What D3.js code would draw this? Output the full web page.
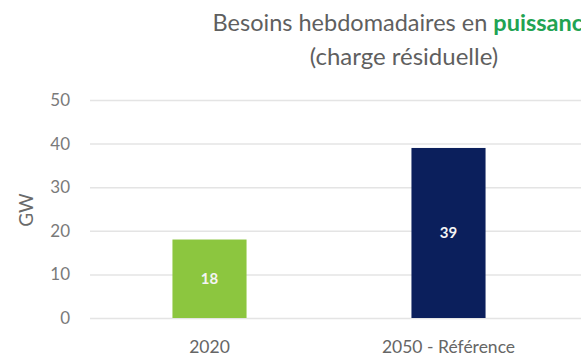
<!DOCTYPE html>
<html>
<head>
<meta charset="utf-8">
<script src="https://cdn.jsdelivr.net/npm/d3@7"></script>
<style>
  html, body { margin: 0; padding: 0; background: #fff; }
  svg { display: block; }
  text { font-family: Lato, "Open Sans", sans-serif; }
</style>
</head>
<body>
<svg id="chart" width="581" height="358"></svg>
<script>
// Weekly residual-load power needs
const categories = ["2020", "2050 - Référence"];
const values = [18, 39];
const barColors = ["#8cc63f", "#0b1f5c"];
const yTicks = [0, 10, 20, 30, 40, 50];

const W = 581, H = 358;
const margin = { top: 100, right: 13, bottom: 40, left: 90 };
const svg = d3.select("#chart");

const x = d3.scaleBand()
  .domain(categories)
  .range([margin.left, W - margin.right])
  .paddingInner(0.69)
  .paddingOuter(0.345);

const y = d3.scaleLinear()
  .domain([0, 50])
  .range([H - margin.bottom, margin.top]);

// Title (the plot area runs past the right edge, so the first line is cut there)
const title = svg.append("text")
  .attr("x", 404).attr("y", 31)
  .attr("text-anchor", "middle")
  .attr("font-size", 23.5)
  .attr("fill", "#5f5f5f");
title.append("tspan").text("Besoins hebdomadaires en ");
title.append("tspan").attr("fill", "#22a352").attr("font-weight", "bold").text("puissance");
svg.append("text")
  .attr("x", 404).attr("y", 65)
  .attr("text-anchor", "middle")
  .attr("font-size", 24)
  .attr("fill", "#5f5f5f")
  .text("(charge résiduelle)");

// Gridlines and y axis labels
const yAxis = d3.axisLeft(y)
  .tickValues(yTicks)
  .tickSize(-(W - margin.left))
  .tickPadding(20);
const gy = svg.append("g")
  .attr("transform", `translate(${margin.left},0)`)
  .call(yAxis);
gy.select(".domain").remove();
gy.selectAll(".tick line").attr("stroke", "#e4e4e4").attr("stroke-width", 1.5);
gy.selectAll(".tick text")
  .attr("fill", "#7a7a7a")
  .attr("font-size", 17)
  .attr("font-family", "Lato, sans-serif");

// Axis title
svg.append("text")
  .attr("transform", `translate(33,${(y(0) + y(50)) / 2 + 1}) rotate(-90)`)
  .attr("text-anchor", "middle")
  .attr("font-size", 19)
  .attr("fill", "#6a6a6a")
  .text("GW");

// Bars
svg.selectAll("rect.bar")
  .data(values)
  .join("rect")
  .attr("class", "bar")
  .attr("x", (d, i) => x(categories[i]))
  .attr("width", x.bandwidth())
  .attr("y", d => y(d))
  .attr("height", d => y(0) - y(d))
  .attr("fill", (d, i) => barColors[i]);

// Value labels
svg.selectAll("text.val")
  .data(values)
  .join("text")
  .attr("class", "val")
  .attr("x", (d, i) => x(categories[i]) + x.bandwidth() / 2)
  .attr("y", d => (y(d) + y(0)) / 2)
  .attr("dy", "0.35em")
  .attr("text-anchor", "middle")
  .attr("font-size", 15)
  .attr("font-weight", "bold")
  .attr("fill", "#f4f4f4")
  .text(d => d);

// Category axis
const xAxis = d3.axisBottom(x).tickSize(0).tickPadding(23);
const gx = svg.append("g")
  .attr("transform", `translate(0,${y(0)})`)
  .call(xAxis);
gx.select(".domain").remove();
gx.selectAll(".tick text")
  .attr("fill", "#666")
  .attr("font-size", 17.5)
  .attr("font-family", "Lato, sans-serif");
</script>
</body>
</html>
